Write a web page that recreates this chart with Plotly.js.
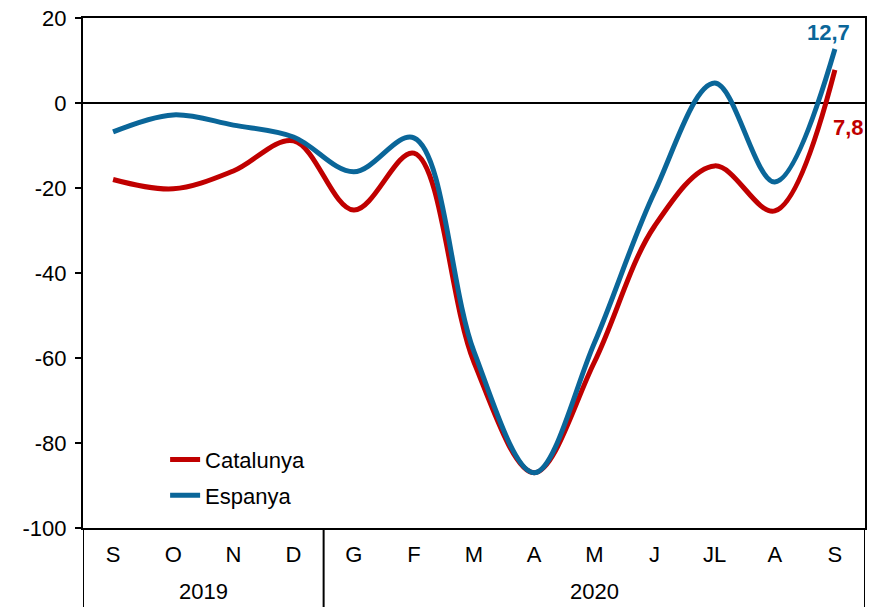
<!DOCTYPE html>
<html>
<head>
<meta charset="utf-8">
<script src="https://cdn.plot.ly/plotly-3.0.1.min.js"></script>
<style>html,body{margin:0;padding:0;background:#fff;}#chart{width:875px;height:607px;}</style>
</head>
<body>
<div id="chart"></div>
<script>
const months = ["S","O","N","D","G","F","M","A","M","J","JL","A","S"];
const years = ["2019","2020"];
const catalunya = [-18, -20.2, -16, -8.9, -25.2, -11.8, -61, -87, -61, -29, -14.8, -25.4, 7.8];
const espanya = [-6.8, -2.8, -5.2, -8, -16.2, -8.2, -58.5, -87, -56.5, -21, 4.7, -18.6, 12.7];
const endLabels = ["7,8", "12,7"];
const yTicks = [20, 0, -20, -40, -60, -80, -100];
const yTickText = ["20", "0", "-20", "-40", "-60", "-80", "-100"];

const xs = months.map((m, i) => i);
const red = "#C00000";
const blue = "#0A6699";
const font = "Liberation Sans, Arial, sans-serif";
const fs = 22;

const traces = [
  {x: xs, y: catalunya, name: "Catalunya", type: "scatter", mode: "lines", legendgroup: "a",
   line: {color: red, width: 5, shape: "spline", smoothing: 1}},
  {x: xs, y: espanya, name: "Espanya", type: "scatter", mode: "lines", legendgroup: "b",
   line: {color: blue, width: 5, shape: "spline", smoothing: 1}}
];

const last = months.length - 1;
const layout = {
  width: 875, height: 607,
  margin: {l: 83, r: 10, t: 18, b: 79},
  paper_bgcolor: "#fff", plot_bgcolor: "#fff",
  font: {family: font, size: fs, color: "#000"},
  showlegend: true,
  legend: {x: 0.105, y: 0.175, xanchor: "left", yanchor: "top", bgcolor: "rgba(0,0,0,0)",
           traceorder: "grouped", tracegroupgap: 4, itemwidth: 30,
           font: {family: font, size: fs, color: "#000"}},
  xaxis: {
    range: [-0.5, last + 0.5], tickmode: "array", tickvals: xs, ticktext: months,
    showgrid: false, zeroline: false, showline: true, linecolor: "#000", linewidth: 2,
    mirror: true, ticks: "", ticklabelstandoff: 6, fixedrange: true,
    tickfont: {family: font, size: fs, color: "#000"}
  },
  yaxis: {
    range: [-100, 20], tickmode: "array", tickvals: yTicks, ticktext: yTickText, showgrid: false,
    zeroline: true, zerolinecolor: "#000", zerolinewidth: 1.5,
    showline: true, linecolor: "#000", linewidth: 2, mirror: true,
    ticks: "outside", ticklen: 6, tickcolor: "#000", tickwidth: 1.5, ticklabelstandoff: 4,
    tickfont: {family: font, size: fs, color: "#000"}, fixedrange: true
  },
  shapes: [-0.5, 3.5, last + 0.5].map(v => ({
    type: "line", xref: "x", yref: "paper", x0: v, x1: v, y0: 0, y1: -0.16,
    line: {color: "#000", width: 2}
  })),
  annotations: [
    {x: 1.5, y: -0.125, xref: "x", yref: "paper", text: years[0], showarrow: false,
     yanchor: "middle", font: {family: font, size: fs, color: "#000"}},
    {x: 8, y: -0.125, xref: "x", yref: "paper", text: years[1], showarrow: false,
     yanchor: "middle", font: {family: font, size: fs, color: "#000"}},
    {x: last, y: espanya[last], xref: "x", yref: "y", text: "<b>" + endLabels[1] + "</b>",
     showarrow: false, xshift: -6, yshift: 17, font: {family: font, size: fs, color: blue}},
    {x: last, y: catalunya[last], xref: "x", yref: "y", text: "<b>" + endLabels[0] + "</b>",
     showarrow: false, xshift: 14, yshift: -58, font: {family: font, size: fs, color: red}}
  ]
};

Plotly.newPlot("chart", traces, layout, {displayModeBar: false, staticPlot: true});
</script>
</body>
</html>
